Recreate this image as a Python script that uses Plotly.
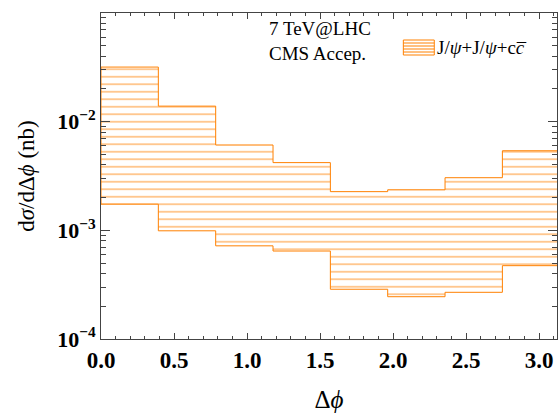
import numpy as np
import plotly.graph_objects as go

# Data: 8 bins of width pi/8 in delta-phi
bin_edges = [i * np.pi / 8 for i in range(9)]
upper = [0.0318, 0.0139, 0.0061, 0.0042, 0.00227, 0.00236, 0.00305, 0.0054]
lower = [0.00174, 0.00099, 0.00072, 0.000645, 0.000287, 0.000245, 0.000269, 0.000473]
series_name = "J/<i>ψ</i>+J/<i>ψ</i>+c<i>c̅</i>"

x_ticks = [0.0, 0.5, 1.0, 1.5, 2.0, 2.5, 3.0]
y_ticks = [1e-4, 1e-3, 1e-2, 1e-1]
y_ticktext = ["<b>10<sup>−4</sup></b>", "<b>10<sup>−3</sup></b>", "<b>10<sup>−2</sup></b>", "<b>10<sup>−1</sup></b>"]

ORANGE = "#FF8000"
FONT = "Liberation Serif, Times New Roman, serif"

# build closed step polygon (upper forward, lower backward)
px, py = [], []
for i in range(len(upper)):
    px += [bin_edges[i], bin_edges[i + 1]]
    py += [upper[i], upper[i]]
for i in reversed(range(len(lower))):
    px += [bin_edges[i + 1], bin_edges[i]]
    py += [lower[i], lower[i]]
px.append(px[0]); py.append(py[0])

fig = go.Figure()
fig.add_trace(go.Scatter(
    x=px, y=py, mode="lines", fill="toself",
    line=dict(color=ORANGE, width=1),
    fillcolor="rgba(0,0,0,0)",
    fillpattern=dict(shape="-", fgcolor=ORANGE, bgcolor="rgba(255,255,255,0)",
                     size=7.5, solidity=0.22, fillmode="overlay"),
    name=series_name, showlegend=False,
))

minor_y = [k * 10.0 ** e for e in (-4, -3, -2) for k in range(2, 10)]

fig.update_layout(
    width=559, height=415,
    margin=dict(l=101, r=2, t=13, b=76),
    paper_bgcolor="white", plot_bgcolor="white",
    font=dict(family=FONT, color="black"),
    showlegend=False,
    xaxis=dict(
        range=[0, 3.123], showgrid=False, zeroline=False,
        showline=True, linecolor="#444", linewidth=1, mirror="ticks",
        ticks="inside", ticklen=6, tickcolor="#444",
        tickvals=x_ticks, ticktext=[f"<b>{v:.1f}</b>" for v in x_ticks],
        tickfont=dict(family=FONT, size=23),
        minor=dict(dtick=0.1, ticks="inside", ticklen=3, tickcolor="#444", showgrid=False),
        title=dict(text="Δ<i>ϕ</i>", font=dict(family=FONT, size=25), standoff=18),
    ),
    yaxis=dict(
        type="log", range=[-4, -1], showgrid=False, zeroline=False,
        showline=True, linecolor="#444", linewidth=1, mirror="ticks",
        ticks="inside", ticklen=9, tickcolor="#444",
        tickvals=y_ticks, ticktext=y_ticktext,
        tickfont=dict(family=FONT, size=22),
        minor=dict(tickvals=minor_y, ticks="inside", ticklen=5, tickcolor="#444", showgrid=False),
        title=dict(text="d<i>σ</i>/dΔ<i>ϕ</i> (nb)", font=dict(family=FONT, size=23), standoff=16),
    ),
)

# annotation text
fig.add_annotation(xref="paper", yref="paper", x=(267 - 101) / 457, y=0.99, xanchor="left", yanchor="top",
                   text="7 TeV@LHC<br>CMS Accep.", showarrow=False, align="left",
                   font=dict(family=FONT, size=19, color="black"))

# legend: hatched box + label (paper coords of a 457x326 plot area)
W, H = 457.0, 326.0
bx0, bx1 = (404 - 101) / W, (435 - 101) / W
by0, by1 = 1 - (55 - 13) / H, 1 - (40 - 13) / H
fig.add_shape(type="rect", xref="paper", yref="paper", x0=bx0, x1=bx1, y0=by0, y1=by1,
              line=dict(color=ORANGE, width=1), fillcolor="rgba(0,0,0,0)")
for k in range(1, 5):
    yy = by0 + (by1 - by0) * k / 5
    fig.add_shape(type="line", xref="paper", yref="paper", x0=bx0, x1=bx1, y0=yy, y1=yy,
                  line=dict(color=ORANGE, width=1))
fig.add_annotation(xref="paper", yref="paper", x=(436 - 101) / W, y=(by0 + by1) / 2,
                   xanchor="left", yanchor="middle", text=series_name, showarrow=False,
                   font=dict(family=FONT, size=19, color="black"))

fig.write_html("out.html")
